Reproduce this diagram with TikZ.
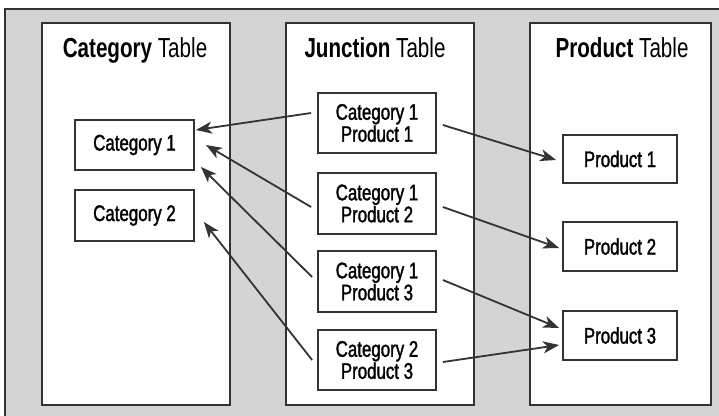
\documentclass[tikz,border=0pt]{standalone}
\usepackage{fontspec}
\setmainfont{Liberation Sans}[FakeStretch=0.75]
\newfontfamily\boxfont{Liberation Sans}[FakeStretch=0.75,FakeBold=1.5]
\usetikzlibrary{arrows.meta}
\definecolor{ink}{HTML}{333333}
\definecolor{bg}{HTML}{D4D4D4}
\begin{document}
\begin{tikzpicture}[x=1pt,y=-1pt,
  panel/.style={draw=ink,line width=2pt,fill=white},
  titletext/.style={anchor=base,font=\fontsize{27.5}{30}\selectfont,inner sep=0pt},
  rowbox/.style={draw=ink,line width=1.8pt,fill=white,inner sep=0pt,align=center,
     font=\boxfont\fontsize{22.5}{22}\selectfont},
  link/.style={draw=ink,line width=1.8pt,-{Stealth[length=16pt,width=12pt,inset=4.5pt]}}]
\useasboundingbox (0,0) rectangle (719,415);
\clip (0,0) rectangle (719,415);
\fill[white] (0,0) rectangle (719,415);
\draw[ink,line width=2pt,fill=bg] (5,9) rectangle (730,430);
% panels
\draw[panel] (42,23) rectangle (230,405);
\draw[panel] (286,23) rectangle (474,405);
\draw[panel] (530,23) rectangle (711,405);
% titles
\node[titletext] (tc) at (135,57) {\textbf{Category} Table};
\node[titletext] (tj) at (375,57) {\textbf{Junction} Table};
\node[titletext] (tp) at (622,57) {\textbf{Product} Table};
% category boxes
\node[rowbox,minimum width=119pt,minimum height=50pt] (c1) at (134.5,145) {Category 1};
\node[rowbox,minimum width=119pt,minimum height=51pt] (c2) at (134.5,215.5) {Category 2};
% junction boxes
\node[rowbox,minimum width=118pt,minimum height=60pt] (j1) at (377,123) {Category 1\\Product 1};
\node[rowbox,minimum width=118pt,minimum height=61pt] (j2) at (377,203.5) {Category 1\\Product 2};
\node[rowbox,minimum width=118pt,minimum height=61pt] (j3) at (377,281.5) {Category 1\\Product 3};
\node[rowbox,minimum width=118pt,minimum height=60pt] (j4) at (377,360) {Category 2\\Product 3};
% product boxes
\node[rowbox,minimum width=114pt,minimum height=48pt] (p1) at (620,159) {Product 1};
\node[rowbox,minimum width=114pt,minimum height=49pt] (p2) at (620,246.5) {Product 2};
\node[rowbox,minimum width=114pt,minimum height=49pt] (p3) at (620,335.5) {Product 3};
% arrows to categories
\draw[link] ([xshift=-6pt,yshift=10pt]j1.west) -- ([xshift=1pt,yshift=15pt]c1.east);
\draw[link] ([xshift=-6pt,yshift=-3.5pt]j2.west) -- ([xshift=11pt]c1.east);
\draw[link] ([xshift=-5pt,yshift=4.5pt]j3.west) -- ([xshift=6pt,yshift=-22pt]c1.east);
\draw[link] ([xshift=-5pt]j4.west) -- ([xshift=9pt,yshift=-6.5pt]c2.east);
% arrows to products
\draw[link] ([xshift=6pt,yshift=-2pt]j1.east) -- ([xshift=-6pt,yshift=-1pt]p1.west);
\draw[link] ([xshift=6pt,yshift=-3.5pt]j2.east) -- ([xshift=-3pt,yshift=-1.5pt]p2.west);
\draw[link] ([xshift=6pt,yshift=1.5pt]j3.east) -- ([xshift=-3pt,yshift=7.5pt]p3.west);
\draw[link] ([xshift=6pt,yshift=-2pt]j4.east) -- ([xshift=-3pt,yshift=-9.5pt]p3.west);
\end{tikzpicture}
\end{document}
